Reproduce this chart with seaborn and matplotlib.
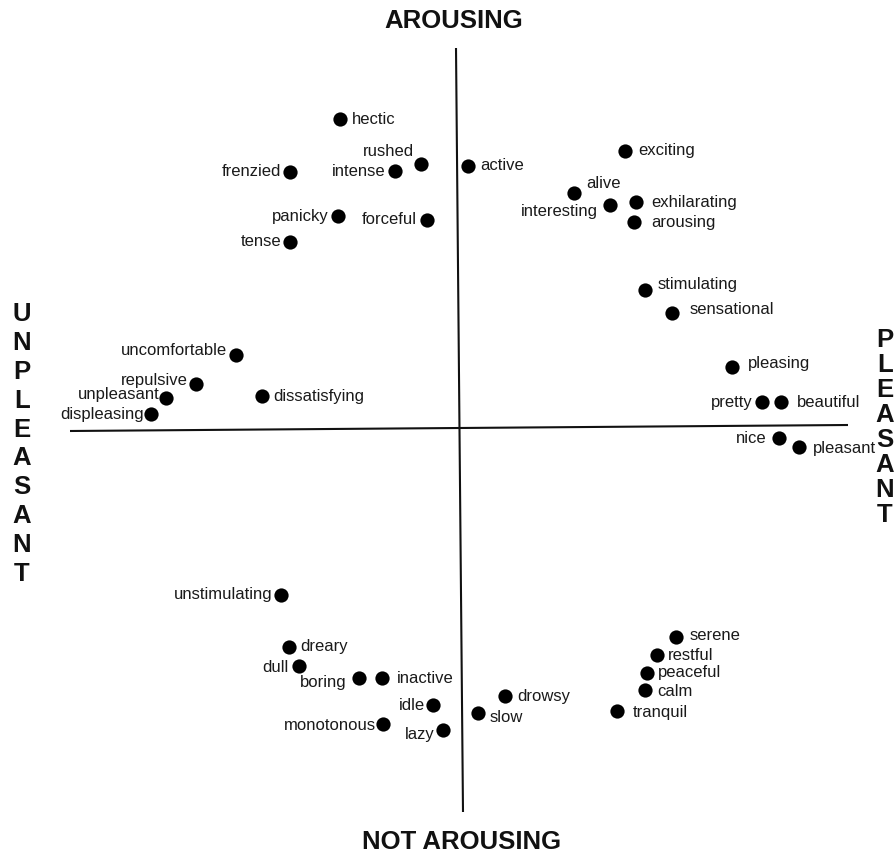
import matplotlib
matplotlib.use("Agg")
import matplotlib.pyplot as plt
import seaborn as sns
import pandas as pd

# ---- data (arbitrary units, origin = axes crossing) ----
words = ["hectic", "rushed", "intense", "active", "frenzied", "panicky", "forceful", "tense",
         "exciting", "alive", "interesting", "exhilarating", "arousing", "stimulating", "sensational",
         "pleasing", "pretty", "beautiful", "nice", "pleasant",
         "uncomfortable", "repulsive", "unpleasant", "displeasing", "dissatisfying",
         "unstimulating", "dreary", "dull", "boring", "inactive", "idle", "monotonous", "lazy",
         "drowsy", "slow", "serene", "restful", "peaceful", "calm", "tranquil"]
pleasure = [-1.18, -0.37, -0.63, 0.10, -1.68, -1.20, -0.31, -1.68,
            1.67, 1.16, 1.52, 1.78, 1.76, 1.87, 2.14,
            2.74, 3.04, 3.23, 3.21, 3.41,
            -2.22, -2.62, -2.92, -3.07, -1.96,
            -1.77, -1.69, -1.59, -0.99, -0.76, -0.25, -0.75, -0.15,
            0.47, 0.20, 2.18, 1.99, 1.89, 1.87, 1.59]
arousal = [3.12, 2.67, 2.60, 2.65, 2.59, 2.15, 2.11, 1.89,
           2.80, 2.38, 2.26, 2.29, 2.09, 1.41, 1.18,
           0.64, 0.29, 0.29, -0.07, -0.16,
           0.76, 0.47, 0.33, 0.17, 0.35,
           -1.64, -2.16, -2.35, -2.47, -2.47, -2.74, -2.93, -2.99,
           -2.65, -2.82, -2.06, -2.24, -2.42, -2.59, -2.80]

top_title = "AROUSING"
bottom_title = "NOT AROUSING"
left_title = "UNPLEASANT"
right_title = "PLEASANT"

# ---- label placement (pixel offsets from dot centre, alignment) ----
placement = {
    "hectic": (12, 0, "left"), "rushed": (-7, 13, "right"), "intense": (-9, 0, "right"),
    "active": (12, 0, "left"), "frenzied": (-9, 0, "right"), "panicky": (-9, 0, "right"),
    "forceful": (-10, 0, "right"), "tense": (-9, 0, "right"),
    "exciting": (13, 0, "left"), "alive": (12, 10, "left"), "interesting": (-12, -6, "right"),
    "exhilarating": (15, 0, "left"), "arousing": (17, 0, "left"), "stimulating": (13, 5, "left"),
    "sensational": (18, 3, "left"), "pleasing": (16, 4, "left"), "pretty": (-9, 0, "right"),
    "beautiful": (16, 0, "left"), "nice": (-12, 0, "right"), "pleasant": (14, -1, "left"),
    "uncomfortable": (-9, 5, "right"), "repulsive": (-8, 4, "right"), "unpleasant": (-6, 4, "right"),
    "displeasing": (-7, 0, "right"), "dissatisfying": (11, 0, "left"),
    "unstimulating": (-8, 1, "right"), "dreary": (11, 0, "left"), "dull": (-10, -2, "right"),
    "boring": (-12, -4, "right"), "inactive": (15, 0, "left"), "idle": (-8, -1, "right"),
    "monotonous": (-7, -2, "right"), "lazy": (-8, -5, "right"),
    "drowsy": (12, -1, "left"), "slow": (12, -4, "left"), "serene": (14, 2, "left"),
    "restful": (11, 0, "left"), "peaceful": (11, 0, "left"), "calm": (12, -1, "left"),
    "tranquil": (16, -1, "left"),
}

df = pd.DataFrame({"word": words, "pleasure": pleasure, "arousal": arousal})

sns.set_theme(style="white")
plt.rcParams["font.family"] = ["Liberation Sans", "DejaVu Sans"]

W, H = 895, 857
fig = plt.figure(figsize=(W / 100, H / 100), dpi=100)
ax = fig.add_axes([0, 0, 1, 1])
ax.set_xlim(-4.58, 4.37)
ax.set_ylim(-4.26, 4.31)
ax.set_axis_off()

# axes of the circumplex
ax.plot([-3.88, 3.90], [0.0, 0.06], color="#111111", lw=1.5, solid_capstyle="butt")
ax.plot([-0.02, 0.05], [3.83, -3.81], color="#111111", lw=1.5, solid_capstyle="butt")

sns.scatterplot(data=df, x="pleasure", y="arousal", ax=ax, s=105, color="black",
                edgecolor="black", linewidth=0, zorder=3, legend=False)

for w, xv, yv in zip(words, pleasure, arousal):
    dx, dy, ha = placement[w]
    ax.annotate(w, (xv, yv), xytext=(dx, dy), textcoords="offset pixels",
                ha=ha, va="center", fontsize=12, color="#1a1a1a")

tkw = dict(fontsize=18.5, fontweight="bold", color="#111111", ha="center", va="center",
           transform=fig.transFigure)
fig.text(454 / W, 1 - 21 / H, top_title, **tkw)
fig.text(462 / W, 1 - 842 / H, bottom_title, **tkw)
for i, ch in enumerate(left_title):
    fig.text(22 / W, 1 - (314 + i * 28.9) / H, ch, **tkw)
for i, ch in enumerate(right_title):
    fig.text(885 / W, 1 - (340 + i * 25.0) / H, ch, **tkw)

fig.savefig("out.png", dpi=100, facecolor="white")
